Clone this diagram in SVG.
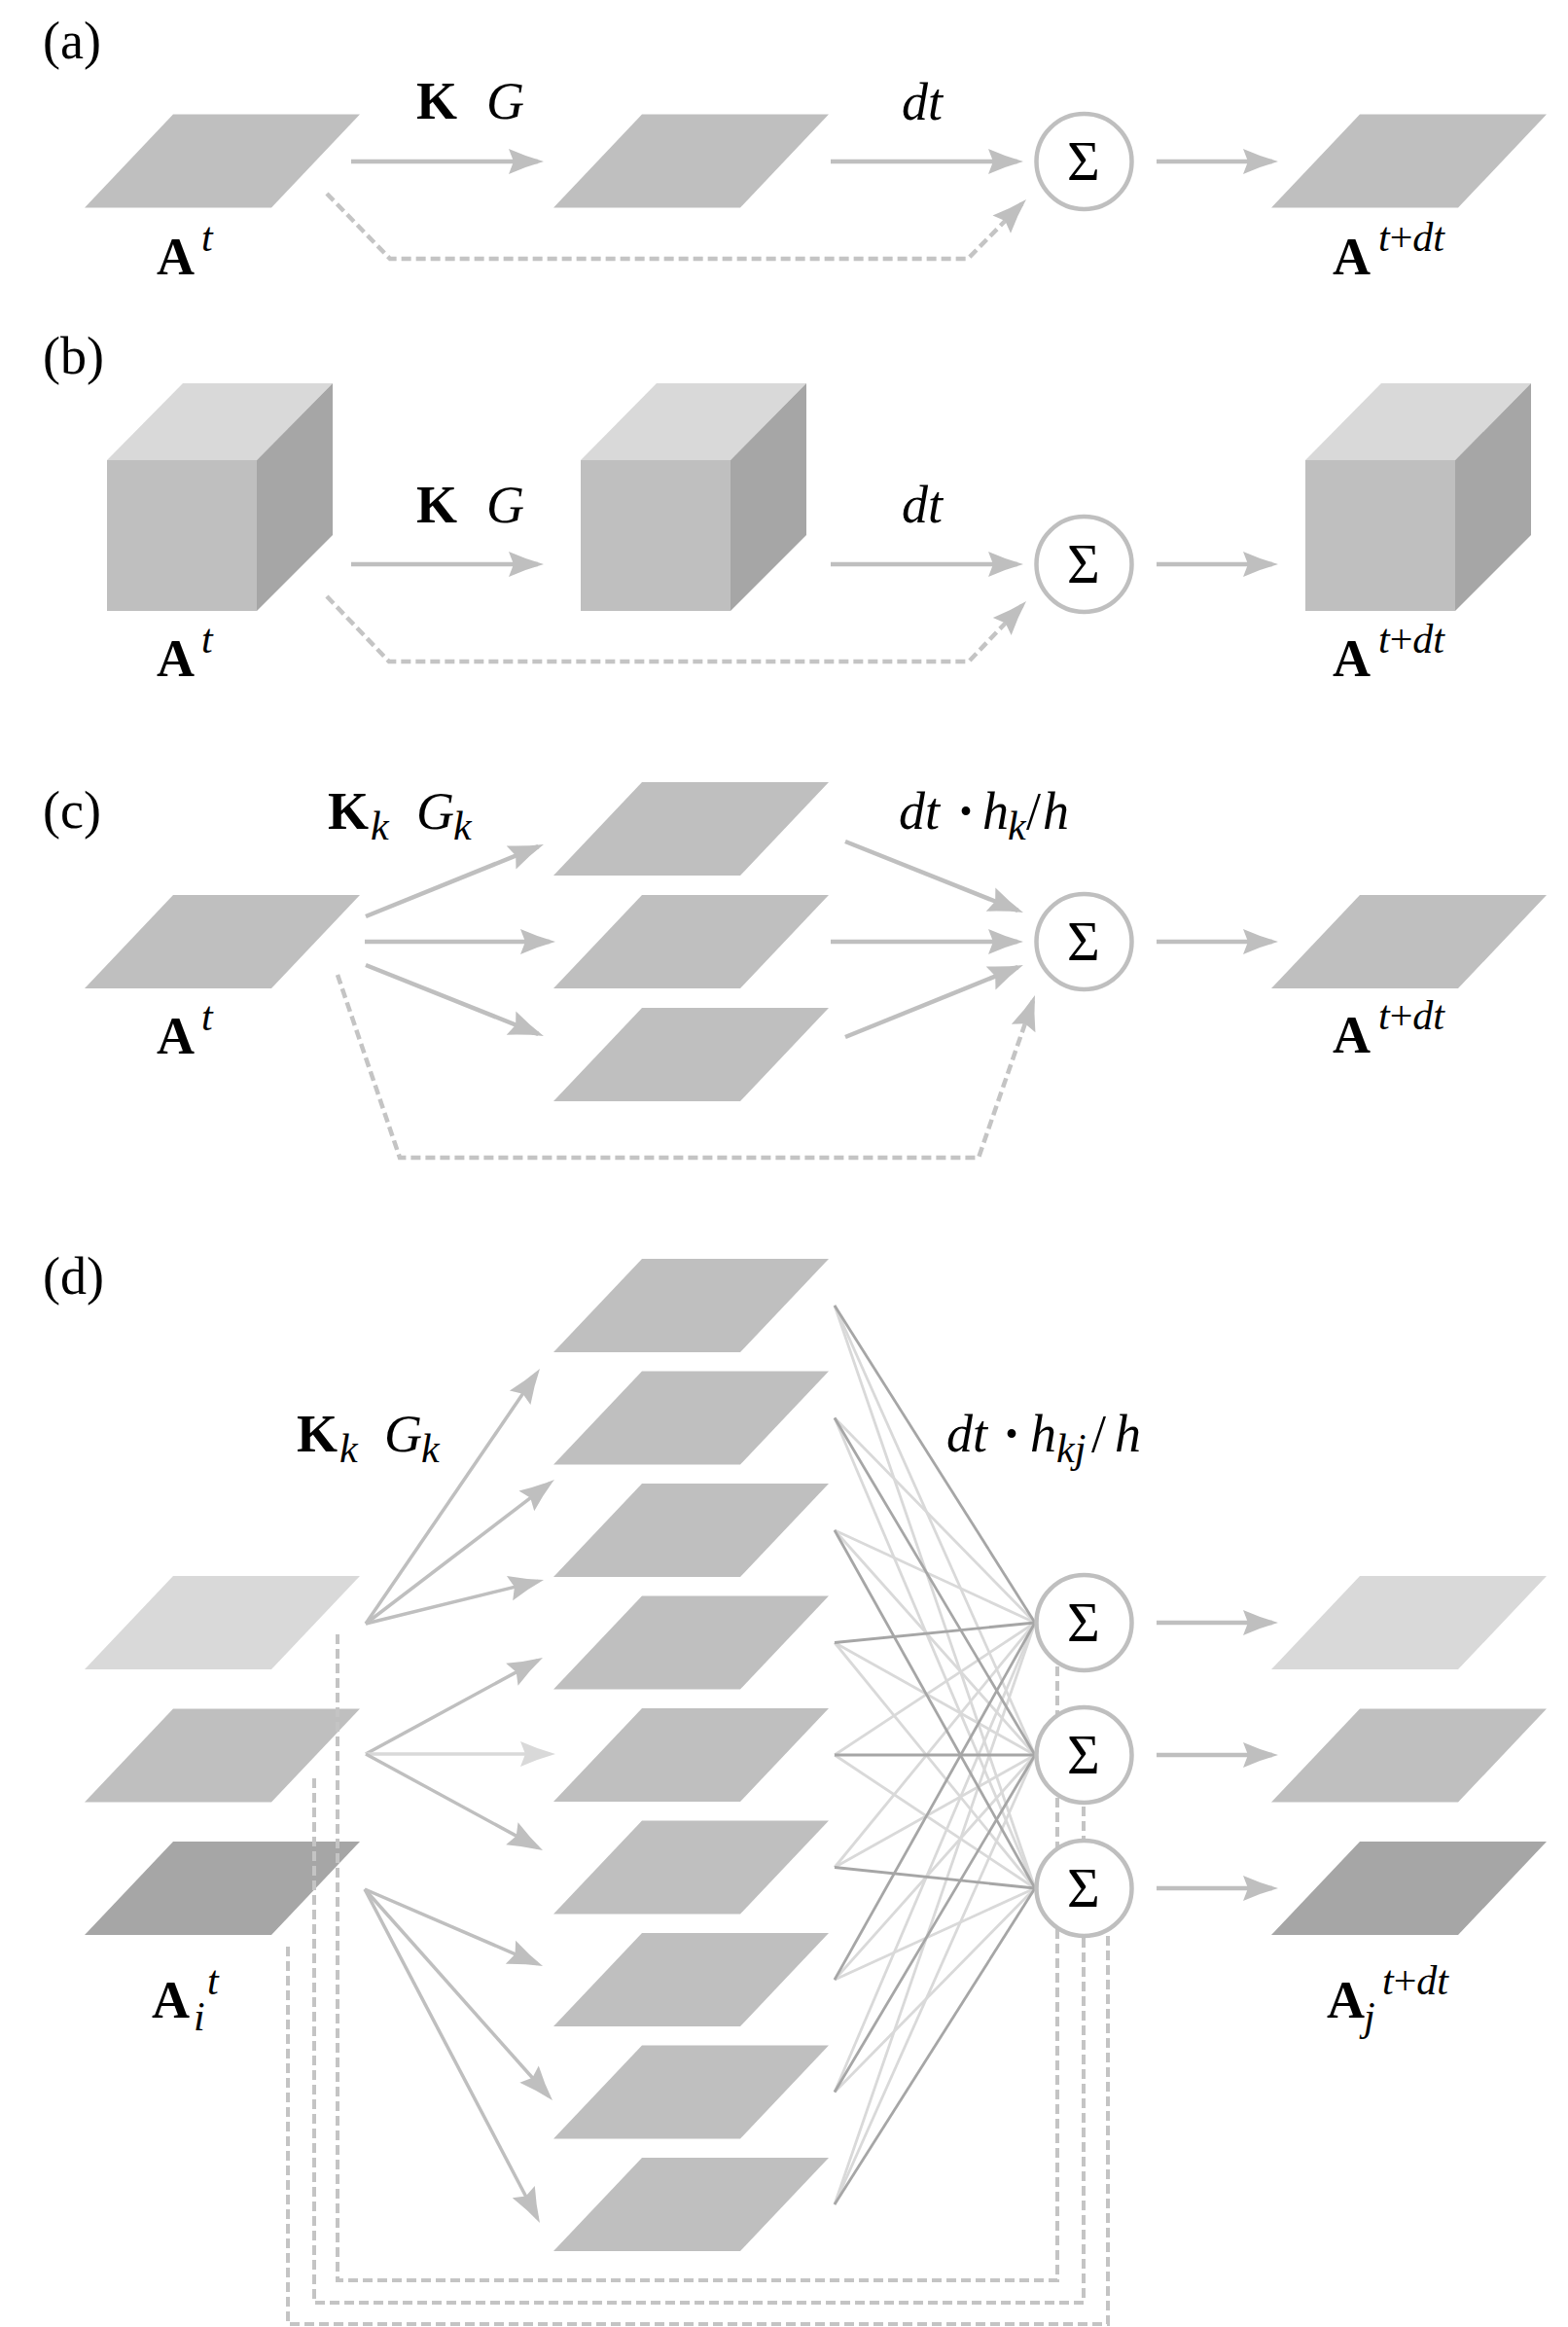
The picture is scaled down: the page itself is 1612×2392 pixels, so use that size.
<svg xmlns="http://www.w3.org/2000/svg" xmlns:xlink="http://www.w3.org/1999/xlink" width="1612" height="2392" viewBox="0 0 1612 2392">
<style>
.pm{fill:#bfbfbf}.pl{fill:#d9d9d9}.pd{fill:#a6a6a6}
.arr{stroke:#bfbfbf;stroke-width:4.5;fill:none;marker-end:url(#ah)}
.thin{stroke-width:3.5}
.arrl{stroke:#d9d9d9;stroke-width:3.5;fill:none;marker-end:url(#ahl)}
.dash{stroke:#c4c4c4;stroke-width:4.5;fill:none;stroke-dasharray:10 5;marker-end:url(#ah)}
.dashd{stroke:#c4c4c4;stroke-width:4;fill:none;stroke-dasharray:10 5}
.sum{fill:#fff;stroke:#bfbfbf;stroke-width:4.5}
.fl{stroke:#d9d9d9;stroke-width:2.8}.fd{stroke:#a6a6a6;stroke-width:2.8}
text{font-family:"Liberation Serif","Times New Roman",serif;font-size:54px;fill:#000}
.b{font-weight:bold}.i{font-style:italic}.n{font-style:normal}.s{font-size:42px}
.sig{text-anchor:middle;font-size:58px}
</style>
<defs>
<path id="pg" d="M91,0 H283 L192,96 H0 Z"/>
<g id="cube">
<rect x="0" y="0" width="154" height="155" fill="#bfbfbf"/>
<polygon points="0,0 78,-79 232,-79 154,0" fill="#d9d9d9"/>
<polygon points="154,0 232,-79 232,77 154,155" fill="#a6a6a6"/>
</g>
<marker id="ah" markerUnits="userSpaceOnUse" markerWidth="40" markerHeight="30" viewBox="-32 -15 40 30" refX="0" refY="0" orient="auto">
<path d="M6,0 Q-12,-5 -30,-13 L-25,0 L-30,13 Q-12,5 6,0 Z" fill="#bfbfbf"/>
</marker>
<marker id="ahl" markerUnits="userSpaceOnUse" markerWidth="40" markerHeight="30" viewBox="-32 -15 40 30" refX="0" refY="0" orient="auto">
<path d="M6,0 Q-12,-5 -30,-13 L-25,0 L-30,13 Q-12,5 6,0 Z" fill="#d9d9d9"/>
</marker>
</defs>

<!-- Panel (a) nodes -->
<g id="a-in"><use xlink:href="#pg" href="#pg" x="87" y="117.5" class="pm"/></g>
<g id="a-mid"><use xlink:href="#pg" href="#pg" x="569" y="117.5" class="pm"/></g>
<g id="a-out"><use xlink:href="#pg" href="#pg" x="1307" y="117.5" class="pm"/></g>

<!-- Panel (b) nodes -->
<g id="b-in"><use xlink:href="#cube" href="#cube" x="110" y="473"/></g>
<g id="b-mid"><use xlink:href="#cube" href="#cube" x="597" y="473"/></g>
<g id="b-out"><use xlink:href="#cube" href="#cube" x="1342" y="473"/></g>

<!-- Panel (c) nodes -->
<g id="c-in"><use xlink:href="#pg" href="#pg" x="87" y="920" class="pm"/></g>
<g id="c-mid1"><use xlink:href="#pg" href="#pg" x="569" y="804" class="pm"/></g>
<g id="c-mid2"><use xlink:href="#pg" href="#pg" x="569" y="920" class="pm"/></g>
<g id="c-mid3"><use xlink:href="#pg" href="#pg" x="569" y="1036" class="pm"/></g>
<g id="c-out"><use xlink:href="#pg" href="#pg" x="1307" y="920" class="pm"/></g>

<!-- Panel (d) nodes -->
<g id="d-in1"><use xlink:href="#pg" href="#pg" x="87" y="1620" class="pl"/></g>
<g id="d-in2"><use xlink:href="#pg" href="#pg" x="87" y="1756.5" class="pm"/></g>
<g id="d-in3"><use xlink:href="#pg" href="#pg" x="87" y="1893" class="pd"/></g>
<g id="d-mid1"><use xlink:href="#pg" href="#pg" x="569" y="1294" class="pm"/></g>
<g id="d-mid2"><use xlink:href="#pg" href="#pg" x="569" y="1409.5" class="pm"/></g>
<g id="d-mid3"><use xlink:href="#pg" href="#pg" x="569" y="1525" class="pm"/></g>
<g id="d-mid4"><use xlink:href="#pg" href="#pg" x="569" y="1640.5" class="pm"/></g>
<g id="d-mid5"><use xlink:href="#pg" href="#pg" x="569" y="1756" class="pm"/></g>
<g id="d-mid6"><use xlink:href="#pg" href="#pg" x="569" y="1871.5" class="pm"/></g>
<g id="d-mid7"><use xlink:href="#pg" href="#pg" x="569" y="1987" class="pm"/></g>
<g id="d-mid8"><use xlink:href="#pg" href="#pg" x="569" y="2102.5" class="pm"/></g>
<g id="d-mid9"><use xlink:href="#pg" href="#pg" x="569" y="2218" class="pm"/></g>
<g id="d-out1"><use xlink:href="#pg" href="#pg" x="1307" y="1620" class="pl"/></g>
<g id="d-out2"><use xlink:href="#pg" href="#pg" x="1307" y="1756.5" class="pm"/></g>
<g id="d-out3"><use xlink:href="#pg" href="#pg" x="1307" y="1893" class="pd"/></g>

<!-- Connectors -->
<g id="connectors">
<!-- (a) -->
<line class="arr" x1="361" y1="166" x2="553" y2="166"/>
<line class="arr" x1="854" y1="166" x2="1046" y2="166"/>
<line class="arr" x1="1189" y1="166" x2="1308" y2="166"/>
<polyline class="dash" points="336,199 401,266 995,266 1050.8,209.3"/>
<!-- (b) -->
<line class="arr" x1="361" y1="580" x2="553" y2="580"/>
<line class="arr" x1="854" y1="580" x2="1046" y2="580"/>
<line class="arr" x1="1189" y1="580" x2="1308" y2="580"/>
<polyline class="dash" points="336,613 400,680 996,680 1050.9,622.3"/>
<!-- (c) -->
<line class="arr" x1="376" y1="942" x2="553.4" y2="870.2"/>
<line class="arr" x1="375" y1="968" x2="565" y2="968"/>
<line class="arr" x1="376" y1="992" x2="553.4" y2="1062.8"/>
<line class="arr" x1="869" y1="865" x2="1046.4" y2="935.8"/>
<line class="arr" x1="854" y1="968" x2="1046" y2="968"/>
<line class="arr" x1="869" y1="1066" x2="1046.4" y2="994.2"/>
<line class="arr" x1="1189" y1="968" x2="1308" y2="968"/>
<polyline class="dash" points="347,1002 411,1190 1006,1190 1062,1028.7"/>
<!-- (d) left fans -->
<line class="arr thin" x1="376" y1="1669" x2="551.6" y2="1412"/>
<line class="arr thin" x1="376" y1="1669" x2="565.2" y2="1524.6"/>
<line class="arr thin" x1="376" y1="1669" x2="553.2" y2="1625.4"/>
<line class="arr thin" x1="376" y1="1803" x2="552.7" y2="1706.9"/>
<line class="arrl" x1="376" y1="1803" x2="565" y2="1803"/>
<line class="arr thin" x1="376" y1="1803" x2="552.7" y2="1899.1"/>
<line class="arr thin" x1="375" y1="1942" x2="552.5" y2="2018.6"/>
<line class="arr thin" x1="375" y1="1942" x2="564" y2="2154.5"/>
<line class="arr thin" x1="375" y1="1942" x2="552.2" y2="2279.7"/>
<!-- (d) fan-in lines (light) -->
<g class="fl">
<line x1="858" y1="1342" x2="1064" y2="1804"/>
<line x1="858" y1="1342" x2="1064" y2="1941"/>
<line x1="858" y1="1457.5" x2="1064" y2="1668"/>
<line x1="858" y1="1457.5" x2="1064" y2="1941"/>
<line x1="858" y1="1573" x2="1064" y2="1668"/>
<line x1="858" y1="1573" x2="1064" y2="1804"/>
<line x1="858" y1="1688.5" x2="1064" y2="1804"/>
<line x1="858" y1="1688.5" x2="1064" y2="1941"/>
<line x1="858" y1="1804" x2="1064" y2="1668"/>
<line x1="858" y1="1804" x2="1064" y2="1941"/>
<line x1="858" y1="1919.5" x2="1064" y2="1668"/>
<line x1="858" y1="1919.5" x2="1064" y2="1804"/>
<line x1="858" y1="2035" x2="1064" y2="1804"/>
<line x1="858" y1="2035" x2="1064" y2="1941"/>
<line x1="858" y1="2150.5" x2="1064" y2="1668"/>
<line x1="858" y1="2150.5" x2="1064" y2="1941"/>
<line x1="858" y1="2266" x2="1064" y2="1668"/>
<line x1="858" y1="2266" x2="1064" y2="1804"/>
</g>
<!-- (d) fan-in lines (dark) -->
<g class="fd">
<line x1="858" y1="1342" x2="1064" y2="1668"/>
<line x1="858" y1="1457.5" x2="1064" y2="1804"/>
<line x1="858" y1="1573" x2="1064" y2="1941"/>
<line x1="858" y1="1688.5" x2="1064" y2="1668"/>
<line x1="858" y1="1804" x2="1064" y2="1804"/>
<line x1="858" y1="1919.5" x2="1064" y2="1941"/>
<line x1="858" y1="2035" x2="1064" y2="1668"/>
<line x1="858" y1="2150.5" x2="1064" y2="1804"/>
<line x1="858" y1="2266" x2="1064" y2="1941"/>
</g>
<!-- (d) outputs -->
<line class="arr" x1="1189" y1="1668" x2="1308" y2="1668"/>
<line class="arr" x1="1189" y1="1804" x2="1308" y2="1804"/>
<line class="arr" x1="1189" y1="1941" x2="1308" y2="1941"/>
<!-- (d) skip connections -->
<polyline class="dashd" points="347,1680 347,2344 1087,2344 1087,1712"/>
<polyline class="dashd" points="323,1828 323,2367 1114,2367 1114,1854"/>
<polyline class="dashd" points="296,2001 296,2389 1139,2389 1139,1985"/>
</g>

<!-- Sum nodes -->
<g id="a-sum"><circle class="sum" cx="1114.5" cy="166" r="49"/><text class="sig" x="1114" y="185">Σ</text></g>
<g id="b-sum"><circle class="sum" cx="1114.5" cy="580" r="49"/><text class="sig" x="1114" y="599">Σ</text></g>
<g id="c-sum"><circle class="sum" cx="1114.5" cy="968" r="49"/><text class="sig" x="1114" y="987">Σ</text></g>
<g id="d-sum1"><circle class="sum" cx="1114.5" cy="1668" r="49"/><text class="sig" x="1114" y="1687">Σ</text></g>
<g id="d-sum2"><circle class="sum" cx="1114.5" cy="1804" r="49"/><text class="sig" x="1114" y="1823">Σ</text></g>
<g id="d-sum3"><circle class="sum" cx="1114.5" cy="1941" r="49"/><text class="sig" x="1114" y="1960">Σ</text></g>

<!-- Labels -->
<g id="labels">
<text x="44" y="60">(a)</text>
<text x="44" y="384">(b)</text>
<text x="44" y="851">(c)</text>
<text x="44" y="1330">(d)</text>

<text x="428" y="122"><tspan class="b">K</tspan><tspan class="i" x="500">G</tspan></text>
<text class="i" x="927" y="123">dt</text>
<text x="161" y="282"><tspan class="b">A</tspan><tspan class="i s" x="207" y="258">t</tspan></text>
<text x="1370" y="282"><tspan class="b">A</tspan><tspan class="i s" x="1417" y="258">t</tspan><tspan class="n s">+</tspan><tspan class="i s">dt</tspan></text>

<text x="428" y="537"><tspan class="b">K</tspan><tspan class="i" x="500">G</tspan></text>
<text class="i" x="927" y="537">dt</text>
<text x="161" y="695"><tspan class="b">A</tspan><tspan class="i s" x="207" y="671">t</tspan></text>
<text x="1370" y="695"><tspan class="b">A</tspan><tspan class="i s" x="1417" y="671">t</tspan><tspan class="n s">+</tspan><tspan class="i s">dt</tspan></text>

<text x="337" y="852"><tspan class="b">K</tspan><tspan class="i s" x="381" y="863">k</tspan><tspan class="i" x="428" y="852">G</tspan><tspan class="i s" x="466" y="863">k</tspan></text>
<text x="924" y="852"><tspan class="i">dt</tspan><tspan class="b" x="984">·</tspan><tspan class="i" x="1010">h</tspan><tspan class="i s" x="1036" y="863">k</tspan><tspan x="1055" y="852">/</tspan><tspan class="i" x="1072">h</tspan></text>
<text x="161" y="1083"><tspan class="b">A</tspan><tspan class="i s" x="207" y="1059">t</tspan></text>
<text x="1370" y="1082"><tspan class="b">A</tspan><tspan class="i s" x="1417" y="1058">t</tspan><tspan class="n s">+</tspan><tspan class="i s">dt</tspan></text>

<text x="305" y="1492"><tspan class="b">K</tspan><tspan class="i s" x="349" y="1503">k</tspan><tspan class="i" x="395" y="1492">G</tspan><tspan class="i s" x="433" y="1503">k</tspan></text>
<text x="973" y="1492"><tspan class="i">dt</tspan><tspan class="b" x="1031">·</tspan><tspan class="i" x="1059">h</tspan><tspan class="i s" x="1086" y="1503">kj</tspan><tspan x="1122" y="1492">/</tspan><tspan class="i" x="1146">h</tspan></text>
<text x="156" y="2074"><tspan class="b">A</tspan><tspan class="i s" x="199" y="2087">i</tspan><tspan class="i s" x="213" y="2050">t</tspan></text>
<text x="1364" y="2074"><tspan class="b">A</tspan><tspan class="i s" x="1402" y="2087">j</tspan><tspan class="i s" x="1421" y="2050">t</tspan><tspan class="n s">+</tspan><tspan class="i s">dt</tspan></text>
</g>
</svg>
